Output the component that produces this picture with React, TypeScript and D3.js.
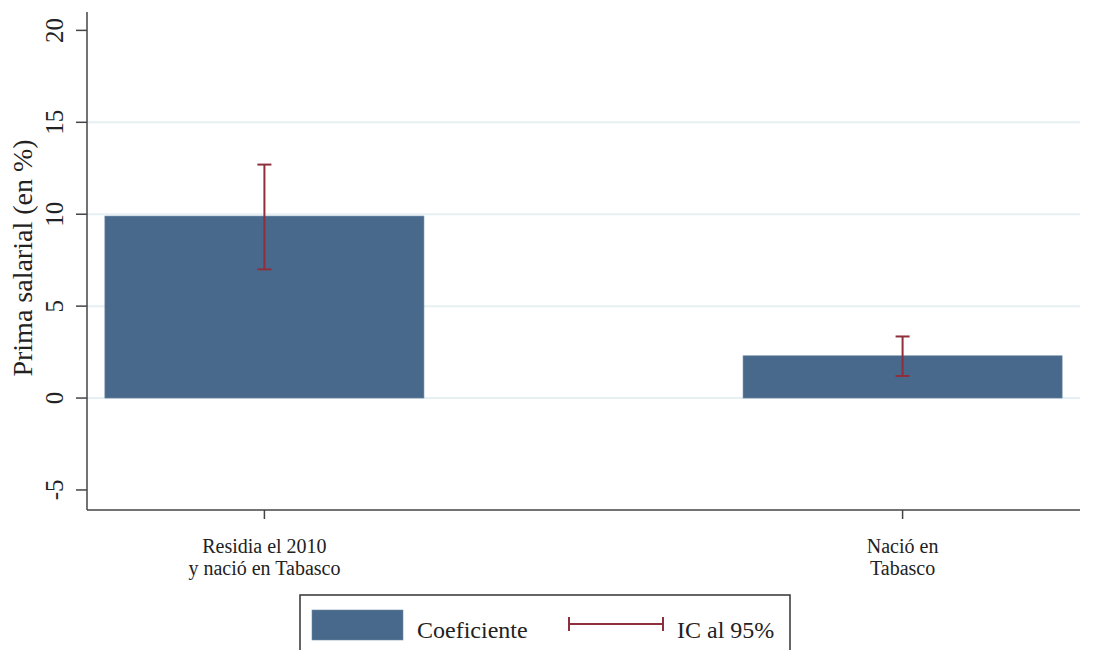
import React from "react";
import * as d3 from "d3";

const categories = ["Residia el 2010\ny nació en Tabasco", "Nació en\nTabasco"];
const coefs = [9.9, 2.3];
const ciLow = [7.0, 1.2];
const ciHigh = [12.7, 3.35];
const yTicks = [-5, 0, 5, 10, 15, 20];
const gridTicks = [0, 5, 10, 15];
const legendLabels = ["Coeficiente", "IC al 95%"];

const W = 1096, H = 650;
const left = 87, right = 1080, top = 12, bottom = 510;
const barColor = "#48698b";
const ciColor = "#8e2f3c";
const font = "'Liberation Serif', 'Times New Roman', serif";

export default function App() {
  const y = d3.scaleLinear().domain([-6.09, 21]).range([bottom, top]);
  const x = d3.scaleBand<string>().domain(categories).range([left, right]).paddingInner(0.5).paddingOuter(0.028);
  const bw = x.bandwidth();
  const capW = 14;

  return (
    <svg width={W} height={H} style={{ position: "absolute", left: 0, top: 0, background: "#fff" }}>
      {gridTicks.map(t => (
        <line key={"g" + t} x1={left} x2={right} y1={y(t)} y2={y(t)} stroke="#e6f0f2" strokeWidth={2} />
      ))}
      {categories.map((c, i) => (
        <rect key={"b" + i} x={x(c)} y={y(coefs[i])} width={bw} height={y(0) - y(coefs[i])}
          fill={barColor} stroke="#6f8aa6" strokeWidth={0.6} />
      ))}
      {categories.map((c, i) => {
        const cx = (x(c) as number) + bw / 2;
        return (
          <g key={"e" + i} stroke={ciColor} strokeWidth={2}>
            <line x1={cx} x2={cx} y1={y(ciHigh[i])} y2={y(ciLow[i])} />
            <line x1={cx - capW / 2} x2={cx + capW / 2} y1={y(ciHigh[i])} y2={y(ciHigh[i])} />
            <line x1={cx - capW / 2} x2={cx + capW / 2} y1={y(ciLow[i])} y2={y(ciLow[i])} />
          </g>
        );
      })}
      {/* y axis */}
      <line x1={left} x2={left} y1={top} y2={bottom} stroke="#444" strokeWidth={1.5} />
      {yTicks.map(t => (
        <g key={"t" + t}>
          <line x1={left - 11} x2={left} y1={y(t)} y2={y(t)} stroke="#444" strokeWidth={1.5} />
          <text transform={`translate(${63},${y(t)}) rotate(-90)`} textAnchor="middle"
            fontFamily={font} fontSize={25} fill="#222">{t < 0 ? "-" + Math.abs(t) : t}</text>
        </g>
      ))}
      <text transform={`translate(${32},${258}) rotate(-90)`} textAnchor="middle"
        fontFamily={font} fontSize={28} fill="#222">Prima salarial (en %)</text>
      {/* x axis */}
      <line x1={left} x2={right} y1={bottom} y2={bottom} stroke="#444" strokeWidth={1.5} />
      {categories.map((c, i) => {
        const cx = (x(c) as number) + bw / 2;
        const lines = c.split("\n");
        return (
          <g key={"x" + i}>
            <line x1={cx} x2={cx} y1={bottom} y2={bottom + 9} stroke="#444" strokeWidth={1.5} />
            {lines.map((l, j) => (
              <text key={j} x={cx} y={553 + j * 22} textAnchor="middle" fontFamily={font}
                fontSize={20} fill="#222">{l}</text>
            ))}
          </g>
        );
      })}
      {/* legend */}
      <rect x={300} y={595} width={490} height={80} fill="#fff" stroke="#333" strokeWidth={1.5} />
      <rect x={312} y={610} width={91} height={30} fill={barColor} stroke="#6f8aa6" strokeWidth={0.6} />
      <text x={417} y={638} fontFamily={font} fontSize={24} fill="#222">{legendLabels[0]}</text>
      <g stroke={ciColor} strokeWidth={2}>
        <line x1={569} x2={663} y1={624} y2={624} />
        <line x1={569} x2={569} y1={617} y2={631} />
        <line x1={663} x2={663} y1={617} y2={631} />
      </g>
      <text x={677} y={638} fontFamily={font} fontSize={24} fill="#222">{legendLabels[1]}</text>
    </svg>
  );
}
